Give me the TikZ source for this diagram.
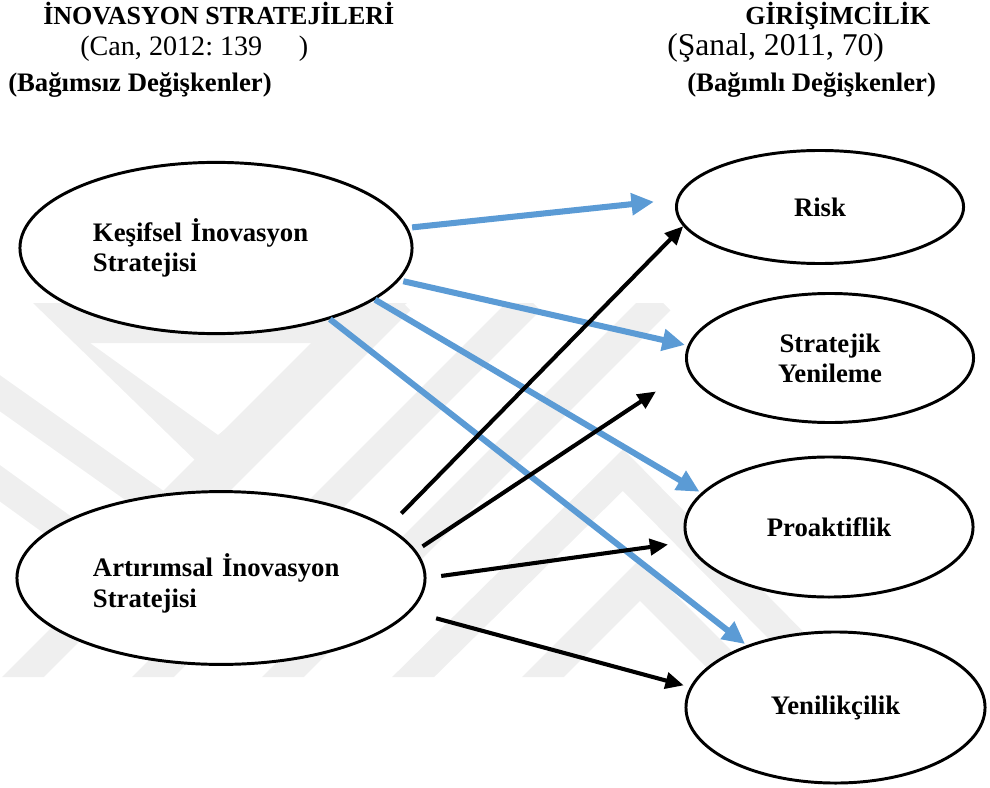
\documentclass[tikz,border=0pt]{standalone}
\usepackage{fontspec}
\setmainfont{Liberation Serif}
\usepackage{tikz}
\usetikzlibrary{arrows.meta, shapes.geometric, positioning}
\definecolor{arrowblue}{RGB}{91, 155, 213}
\definecolor{markgray}{RGB}{239, 239, 239}
\frenchspacing

\tikzset{
  oval/.style={ellipse, draw, line width=2.1pt, fill=white, inner sep=0pt,
    font=\fontsize{19}{21.5}\selectfont\bfseries, align=center},
  bluearrow/.style={draw=arrowblue, line width=4.3pt, -{Triangle[length=16pt, width=15pt]}},
  blackarrow/.style={draw=black, line width=2.9pt, -{Triangle[length=13pt, width=11.5pt]}},
  headbold/.style={anchor=base west, inner sep=0pt, font=\fontsize{18.5}{20}\selectfont\bfseries},
  subbold/.style={anchor=base west, inner sep=0pt, font=\fontsize{19}{21}\selectfont\bfseries},
  citetext/.style={anchor=base west, inner sep=0pt},
  stripe/.style={draw=markgray, line width=21pt, line join=miter}
}

\begin{document}
\begin{tikzpicture}[x=0.025cm, y=-0.025cm]
\useasboundingbox (0,0) rectangle (990,787);

% faint background stripes
\begin{scope}
  \clip (0,303) -- (690,303) -- (830,677) -- (0,677) -- cycle;
  \fill[markgray, even odd rule] (33,303) -- (407,303) -- (200,465) -- cycle
    (90,343) -- (335,343) -- (218,435) -- cycle;
  \draw[stripe] (-40,365) -- (165,510) -- (380,295);
  \draw[stripe] (-60,440) -- (120,570);
  \draw[stripe] (10,690) -- (400,300);
  \draw[stripe] (140,690) -- (530,300);
  \draw[stripe] (270,690) -- (660,300);
  \draw[stripe] (400,690) -- (623,470) -- (840,690);
  \draw[stripe] (530,690) -- (640,580) -- (760,700);
\end{scope}

% headings
\node[headbold] (lefttitle) at (43,25) {İNOVASYON STRATEJİLERİ};
\node[citetext, font=\fontsize{20}{22}\selectfont] (leftcite) at (80,56) {(Can, 2012: 139\hspace{26pt})};
\node[subbold] (leftsub) at (8,92) {(Bağımsız Değişkenler)};
\node[headbold] (righttitle) at (745,25) {GİRİŞİMCİLİK};
\node[citetext, font=\fontsize{22.5}{24}\selectfont] (rightcite) at (667,56) {(Şanal, 2011, 70)};
\node[subbold] (rightsub) at (687,92) {(Bağımlı Değişkenler)};

% independent variables
\node[oval, minimum width=9.8cm, minimum height=4.28cm, text width=6.15cm, align=left] (kesif) at (216,248) {Keşifsel İnovasyon\\Stratejisi};
\node[oval, minimum width=10.2cm, minimum height=4.32cm, text width=6.4cm, align=left] (artir) at (221,578) {\rule{0pt}{24pt}Artırımsal İnovasyon\\Stratejisi};

% dependent variables
\node[oval, minimum width=7.175cm, minimum height=2.825cm] (risk) at (820,207) {Risk};
\node[oval, minimum width=7.175cm, minimum height=3.225cm] (yenileme) at (830,358) {Stratejik\\Yenileme};
\node[oval, minimum width=7.2cm, minimum height=3.5cm] (proaktif) at (829,527) {Proaktiflik};
\node[oval, minimum width=7.475cm, minimum height=3.775cm] (yenilik) at (835.5,707.5) {Yenilikçilik};

% blue arrows
\draw[bluearrow, shorten <=0.1cm, shorten >=0.56cm] (kesif.6.5) -- (risk.177.6);
\draw[bluearrow, shorten <=0.1cm, shorten >=0.07cm] (kesif.-10.8) -- (yenileme.175.7);
\draw[bluearrow, shorten >=0.05cm] (kesif.-18.4) -- (proaktif.165.2);
\draw[bluearrow, shorten >=0.05cm] (kesif.-32.3) -- (yenilik.145.4);

% black arrows
\draw[blackarrow, shorten <=0.47cm] (artir.17.5) -- (risk.188.9);
\draw[blackarrow, shorten <=0.19cm, shorten >=0.95cm] (artir.8.2) -- (yenileme.185.9);
\draw[blackarrow, shorten <=0.37cm, shorten >=0.47cm] (artir.east) -- (proaktif.186.3);
\draw[blackarrow, shorten <=0.65cm, shorten >=0.16cm] (artir.-10.8) -- (yenilik.172.1);
\end{tikzpicture}
\end{document}
